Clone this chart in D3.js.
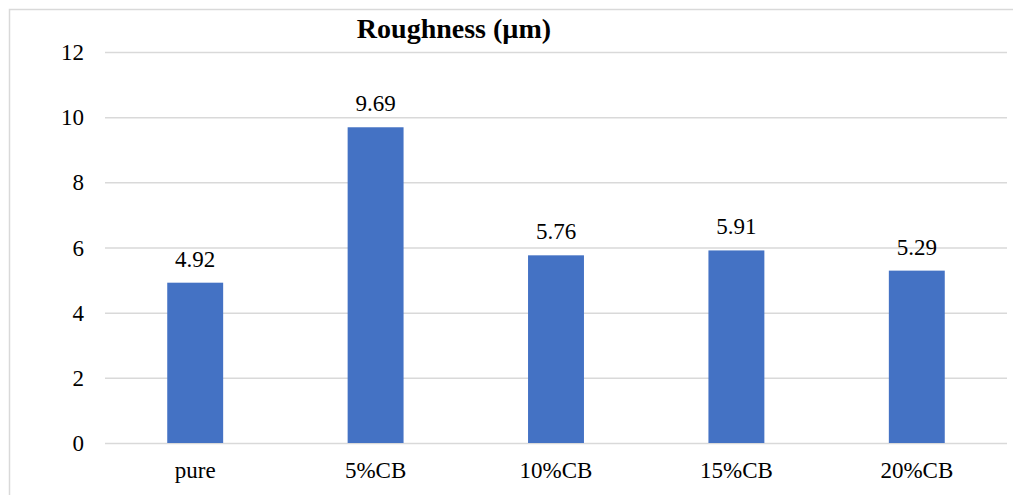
<!DOCTYPE html>
<html>
<head>
<meta charset="utf-8">
<script src="https://cdn.jsdelivr.net/npm/d3@7"></script>
<style>
  body { margin: 0; background: #fff; }
</style>
</head>
<body>
<div id="chart"></div>
<script>
const categories = ["pure", "5%CB", "10%CB", "15%CB", "20%CB"];
const roughness = [4.92, 9.69, 5.76, 5.91, 5.29];
const yTicks = [0, 2, 4, 6, 8, 10, 12];
const title = "Roughness (µm)";

const serif = "'Liberation Serif', 'DejaVu Serif', 'Times New Roman', Times, serif";

const drawChart = () => {
  const width = 1013;
  const height = 495;

  const svg = d3.select("#chart")
    .append("svg")
    .attr("width", width)
    .attr("height", height)
    .style("font-family", serif);

  // chart area frame, runs off the right and bottom edges
  svg.append("rect")
    .attr("x", 9.5)
    .attr("y", 9.5)
    .attr("width", width + 10)
    .attr("height", height + 10)
    .attr("fill", "none")
    .attr("stroke", "#d9d9d9")
    .attr("stroke-width", 1.5);

  const x = d3.scaleBand()
    .domain(categories)
    .range([105, 1007])
    .paddingInner(0.69)
    .paddingOuter(0.345);

  const y = d3.scaleLinear()
    .domain([0, 12])
    .range([443, 52]);

  const grid = svg.append("g")
    .attr("transform", "translate(105,0)")
    .call(d3.axisLeft(y).tickValues(yTicks).tickSize(-902).tickFormat(""));
  grid.select(".domain").remove();
  grid.selectAll("line")
    .attr("stroke", "#d9d9d9")
    .attr("stroke-width", 1.5);

  svg.selectAll(".ylab")
    .data(yTicks)
    .enter()
    .append("text")
    .attr("class", "ylab")
    .attr("x", 84)
    .attr("y", d => y(d))
    .attr("dy", "0.35em")
    .attr("text-anchor", "end")
    .style("font-family", serif)
    .attr("font-size", 23)
    .text(d => d);

  svg.selectAll(".bar")
    .data(roughness)
    .enter()
    .append("rect")
    .attr("class", "bar")
    .attr("x", (d, i) => x(categories[i]))
    .attr("width", x.bandwidth())
    .attr("y", d => y(d))
    .attr("height", d => y(0) - y(d))
    .attr("fill", "#4472c4");

  svg.selectAll(".val")
    .data(roughness)
    .enter()
    .append("text")
    .attr("class", "val")
    .attr("x", (d, i) => x(categories[i]) + x.bandwidth() / 2)
    .attr("y", d => y(d) - 16)
    .attr("text-anchor", "middle")
    .style("font-family", serif)
    .attr("font-size", 23)
    .text(d => d.toFixed(2));

  svg.selectAll(".xlab")
    .data(categories)
    .enter()
    .append("text")
    .attr("class", "xlab")
    .attr("x", d => x(d) + x.bandwidth() / 2)
    .attr("y", 478)
    .attr("text-anchor", "middle")
    .style("font-family", serif)
    .attr("font-size", 23)
    .text(d => d);

  svg.append("text")
    .attr("x", 454)
    .attr("y", 38)
    .attr("text-anchor", "middle")
    .style("font-family", serif)
    .attr("font-size", 28)
    .attr("font-weight", "bold")
    .text(title);
};

window.onload = drawChart;
</script>
</body>
</html>
